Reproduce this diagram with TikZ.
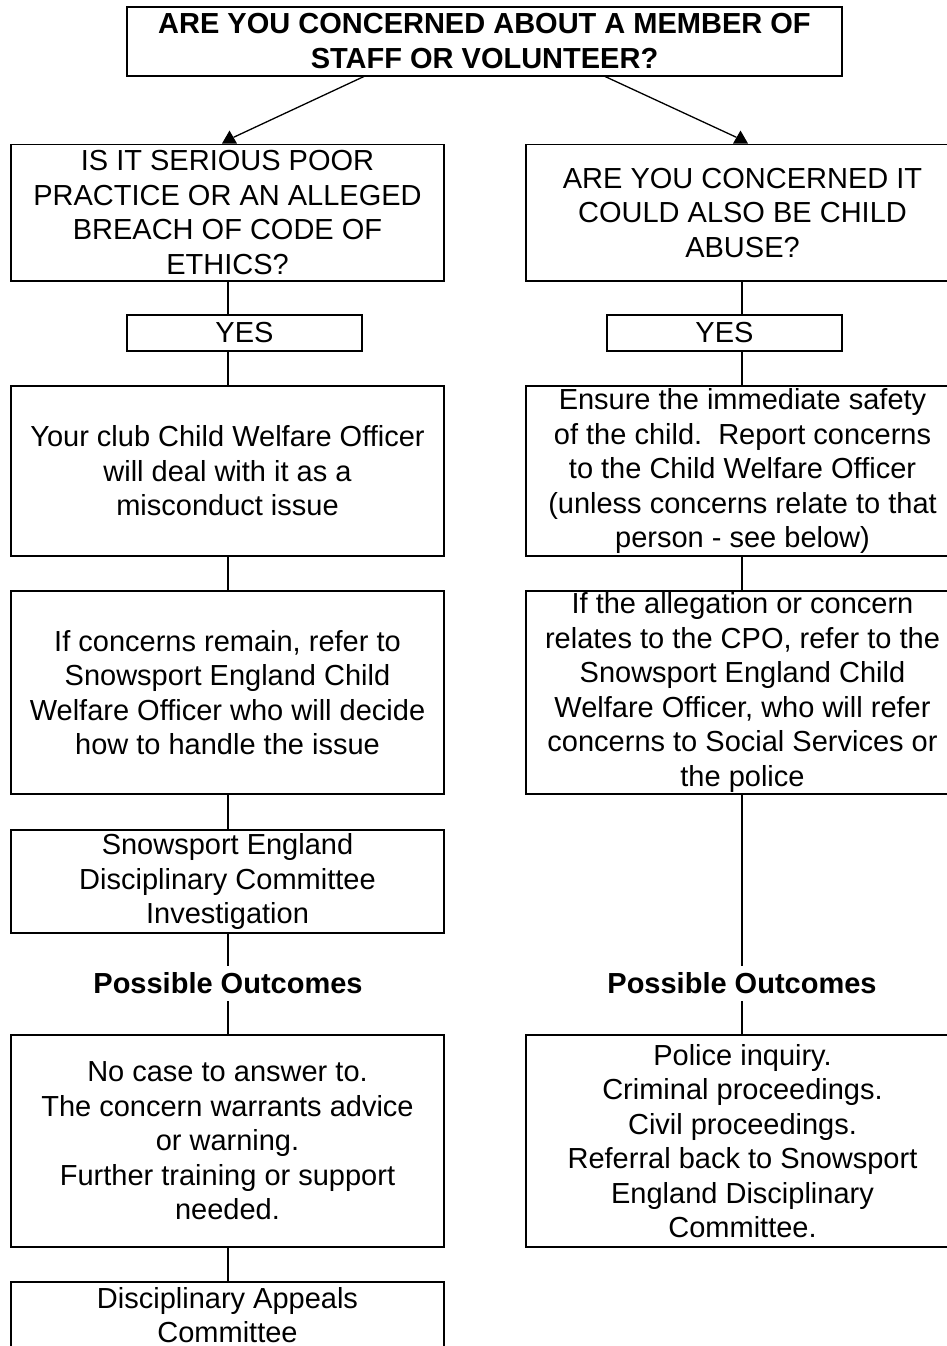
\documentclass[tikz,border=0pt]{standalone}
\usepackage{fontspec}
\setmainfont{Liberation Sans}
\usetikzlibrary{shapes.geometric}
\begin{document}
\begin{tikzpicture}[x=1pt,y=-1pt,
  box/.style={draw, line width=1.6pt, fill=white, inner sep=0pt, align=center,
    minimum width=433pt, font=\fontsize{29}{34.5}\selectfont},
  titlebox/.style={box, font=\bfseries\fontsize{29}{35}\selectfont},
  yesbox/.style={box, minimum width=235pt, minimum height=36pt},
  conn/.style={line width=1.3pt},
  outcome/.style={inner sep=0pt, minimum height=35pt, font=\bfseries\fontsize{29}{34.5}\selectfont},
  tipmark/.style={regular polygon, regular polygon sides=3, fill=black, inner sep=0pt, minimum size=17.3pt}]
\fill[white] (0,0) rectangle (947,1346);
\useasboundingbox (0,0) rectangle (947,1346);

\coordinate (cl) at (228,0);
\coordinate (cr) at (742,0);
\coordinate (sl) at (365,76);
\coordinate (sr) at (604,76);

\node[titlebox, minimum width=715pt, minimum height=69pt] (top) at (484.5,41.5)
  {ARE YOU CONCERNED ABOUT A MEMBER OF\\STAFF OR VOLUNTEER?};

\node[box, minimum height=136.5pt] (L1) at (227.5,212.75)
  {IS IT SERIOUS POOR\\PRACTICE OR AN ALLEGED\\BREACH OF CODE OF\\ETHICS?};
\node[box, minimum height=136.5pt] (R1) at (742.5,212.75)
  {ARE YOU CONCERNED IT\\COULD ALSO BE CHILD\\ABUSE?};

\node[yesbox] (yesL) at (244.5,333) {YES};
\node[yesbox] (yesR) at (724.5,333) {YES};

\node[box, minimum height=170pt] (L3) at (227.5,471)
  {Your club Child Welfare Officer\\will deal with it as a\\misconduct issue};
\node[box, minimum height=170pt] (R3) at (742.5,471)
  {Ensure the immediate safety\\of the child.\ \ Report concerns\\to the Child Welfare Officer\\(unless concerns relate to that\\person - see below)};

\node[box, minimum height=203pt] (L4) at (227.5,692.5)
  {If concerns remain, refer to\\Snowsport England Child\\Welfare Officer who will decide\\how to handle the issue};
\node[box, minimum height=203pt] (R4) at (742.5,692.5)
  {If the allegation or concern\\relates to the CPO, refer to the\\Snowsport England Child\\Welfare Officer, who will refer\\concerns to Social Services or\\the police};

\node[box, minimum height=103pt] (L5) at (227.5,881.5)
  {Snowsport England\\Disciplinary Committee\\Investigation};

\node[outcome] (POL) at (228,983.5) {Possible Outcomes};
\node[outcome] (POR) at (742,983.5) {Possible Outcomes};

\node[box, minimum height=212pt] (L6) at (227.5,1141)
  {No case to answer to.\\The concern warrants advice\\or warning.\\Further training or support\\needed.};
\node[box, minimum height=212pt] (R6) at (742.5,1141)
  {Police inquiry.\\Criminal proceedings.\\Civil proceedings.\\Referral back to Snowsport\\England Disciplinary\\Committee.};

\node[box, minimum height=66pt] (L7) at (227.5,1315)
  {Disciplinary Appeals\\Committee};

\node[tipmark] (tipL) at (229.5,139.2) {};
\node[tipmark] (tipR) at (740.5,139.2) {};
\draw[conn] (sl) -- (tipL);
\draw[conn] (sr) -- (tipR);

\draw[conn] (cl |- L1.south) -- (cl |- yesL.north);
\draw[conn] (cl |- yesL.south) -- (cl |- L3.north);
\draw[conn] (cl |- L3.south) -- (cl |- L4.north);
\draw[conn] (cl |- L4.south) -- (cl |- L5.north);
\draw[conn] (cl |- L5.south) -- (POL.north);
\draw[conn] (POL.south) -- (cl |- L6.north);
\draw[conn] (cl |- L6.south) -- (cl |- L7.north);

\draw[conn] (cr |- R1.south) -- (cr |- yesR.north);
\draw[conn] (cr |- yesR.south) -- (cr |- R3.north);
\draw[conn] (cr |- R3.south) -- (cr |- R4.north);
\draw[conn] (cr |- R4.south) -- (POR.north);
\draw[conn] (POR.south) -- (cr |- R6.north);
\end{tikzpicture}
\end{document}
